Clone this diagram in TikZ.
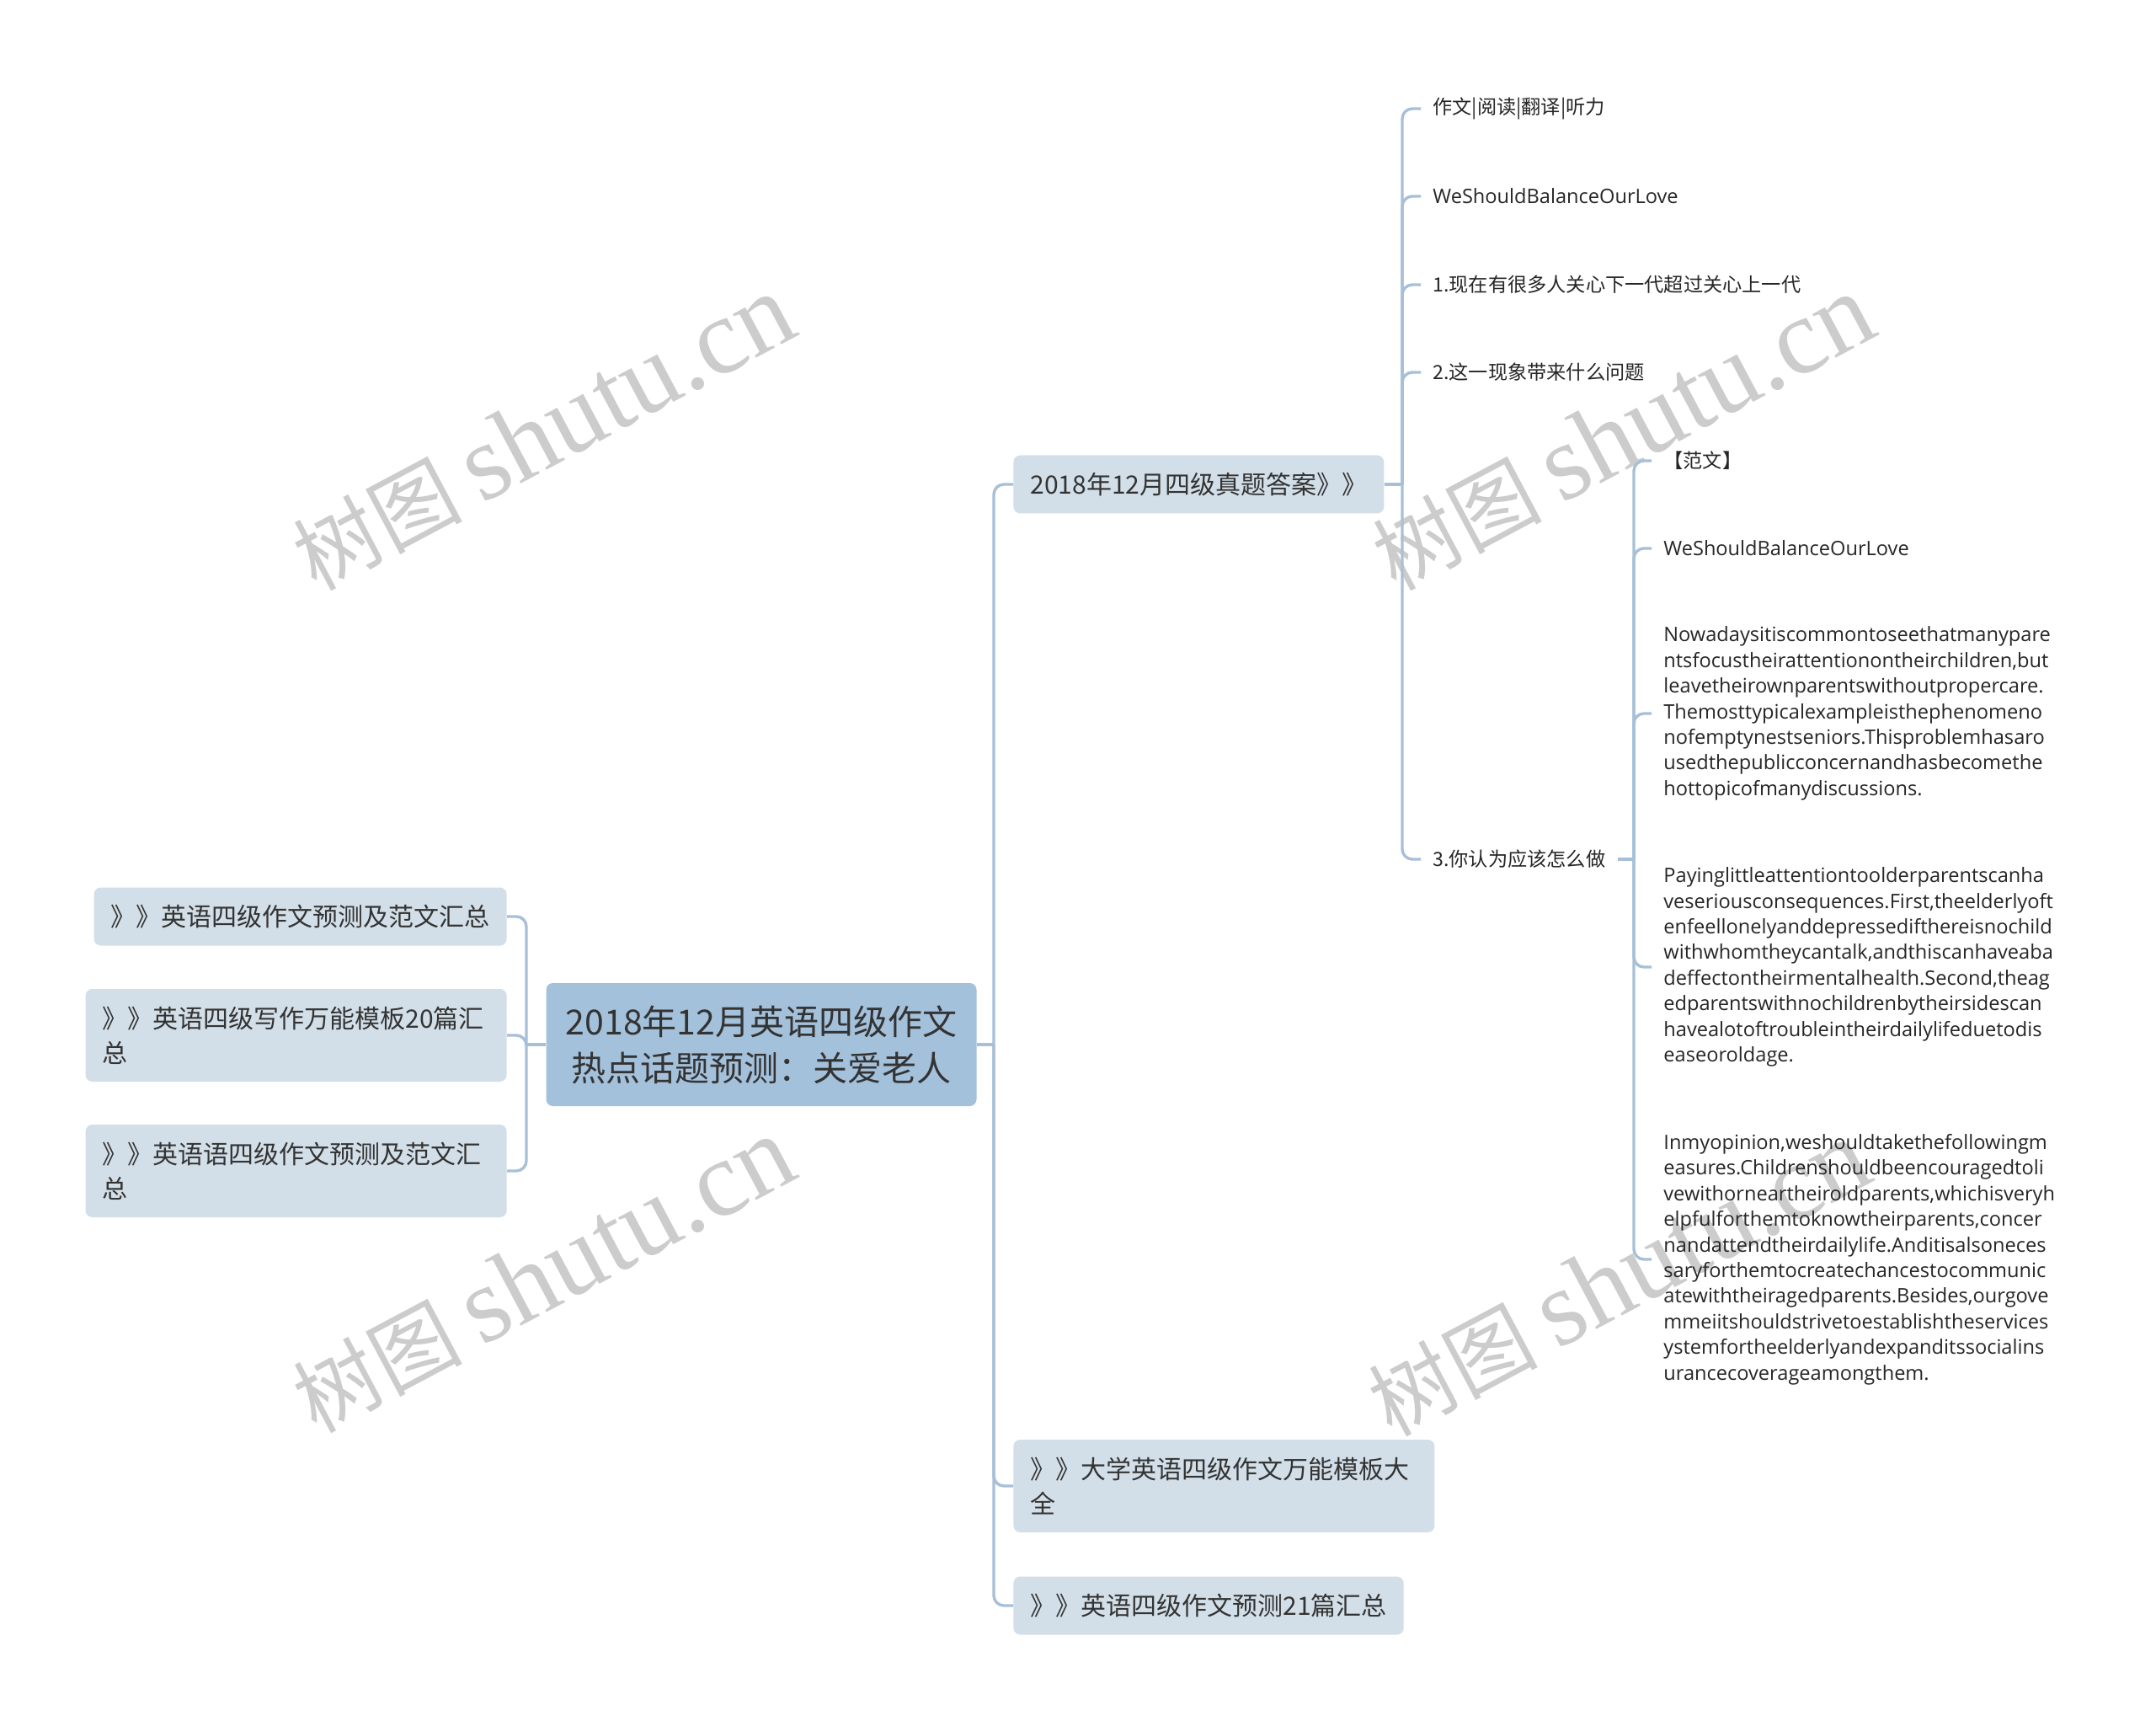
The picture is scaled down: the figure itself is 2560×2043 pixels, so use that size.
\documentclass[tikz,border=0pt]{standalone}
\usepackage{fontspec}
\usepackage{tikz}
\usetikzlibrary{positioning}
\newfontfamily\cjk{Noto Sans CJK SC}
\newfontfamily\latin{Open Sans}
\newfontfamily\wmserif{Liberation Serif}
\definecolor{rootblue}{HTML}{A4C1DB}
\definecolor{topicgray}{HTML}{D3DFE8}
\definecolor{linkblue}{HTML}{A7C0D8}
\definecolor{textgray}{HTML}{333333}

\begin{document}
\begin{tikzpicture}[x=0.5pt,y=-0.5pt]
\tikzstyle{root}=[rectangle,rounded corners=4pt,fill=rootblue,text=textgray,align=center,
  font=\cjk\fontsize{20.5pt}{27.5pt}\selectfont,minimum width=255.5pt,minimum height=73pt,inner sep=0pt]
\tikzstyle{topic}=[rectangle,rounded corners=4pt,fill=topicgray,text=textgray,align=left,
  font=\cjk\fontsize{15pt}{20.5pt}\selectfont,inner xsep=10pt,minimum height=34.5pt]
\tikzstyle{item}=[inner xsep=7pt,inner ysep=2pt,text=black!85,align=left,
  font=\cjk\fontsize{11.6pt}{15.2pt}\selectfont]
\tikzstyle{para}=[item,font=\latin\fontsize{11.8pt}{15.2pt}\selectfont]
\tikzstyle{wmark}=[text=black!20,rotate=28,font=\cjk\fontsize{50pt}{50pt}\selectfont]
\tikzstyle{link}=[draw=linkblue,line width=1.7pt,rounded corners=6pt]

\fill[white] (0,0) rectangle (2560,2043);
\useasboundingbox (0,0) rectangle (2560,2043);

% watermarks
\node[wmark] (wm1) at (645,514) {树图 {\wmserif\fontsize{64pt}{64pt}\selectfont shutu.cn}};
\node[wmark] (wm2) at (1927,514) {树图 {\wmserif\fontsize{64pt}{64pt}\selectfont shutu.cn}};
\node[wmark] (wm3) at (645,1514) {树图 {\wmserif\fontsize{64pt}{64pt}\selectfont shutu.cn}};
\node[wmark] (wm4) at (1922,1518) {树图 {\wmserif\fontsize{64pt}{64pt}\selectfont shutu.cn}};

\node[root] (root) at (904,1240) {2018年12月英语四级作文\\热点话题预测：关爱老人};

\node[topic,anchor=east] (a1) at (602,1088) {》》英语四级作文预测及范文汇总};
\node[topic,anchor=east,text width=230pt,minimum height=55pt] (a2) at (602,1229) {》》英语四级写作万能模板20篇汇\\总};
\node[topic,anchor=east,text width=230pt,minimum height=55pt] (a3) at (602,1390) {》》英语语四级作文预测及范文汇\\总};

\node[topic,anchor=west] (b1) at (1203,575) {2018年12月四级真题答案》》};
\node[topic,anchor=west,text width=230pt,minimum height=55pt] (b2) at (1203,1764) {》》大学英语四级作文万能模板大\\全};
\node[topic,anchor=west] (b3) at (1203,1906) {》》英语四级作文预测21篇汇总};

\node[item,anchor=west] (c1) at (1687,129) {作文|阅读|翻译|听力};
\node[para,anchor=west] (c2) at (1687,233) {WeShouldBalanceOurLove};
\node[item,anchor=west] (c3) at (1687,338) {1.现在有很多人关心下一代超过关心上一代};
\node[item,anchor=west] (c4) at (1687,442) {2.这一现象带来什么问题};
\node[item,anchor=west] (c5) at (1687,1020) {3.你认为应该怎么做};

\node[item,anchor=west] (d1) at (1961,547) {【范文】};
\node[para,anchor=west] (d2) at (1961,651) {WeShouldBalanceOurLove};
\node[para,anchor=west] (d3) at (1961,847) {Nowadaysitiscommontoseethatmanypare\\
ntsfocustheirattentionontheirchildren,but\\
leavetheirownparentswithoutpropercare.\\
Themosttypicalexampleisthephenomeno\\
nofemptynestseniors.Thisproblemhasaro\\
usedthepublicconcernandhasbecomethe\\
hottopicofmanydiscussions.};
\node[para,anchor=west] (d4) at (1961,1148) {Payinglittleattentiontoolderparentscanha\\
veseriousconsequences.First,theelderlyoft\\
enfeellonelyanddepressedifthereisnochild\\
withwhomtheycantalk,andthiscanhaveaba\\
deffectontheirmentalhealth.Second,theag\\
edparentswithnochildrenbytheirsidescan\\
havealotoftroubleintheirdailylifeduetodis\\
easeoroldage.};
\node[para,anchor=west] (d5) at (1961,1495) {Inmyopinion,weshouldtakethefollowingm\\
easures.Childrenshouldbeencouragedtoli\\
vewithorneartheiroldparents,whichisveryh\\
elpfulforthemtoknowtheirparents,concer\\
nandattendtheirdailylife.Anditisalsoneces\\
saryforthemtocreatechancestocommunic\\
atewiththeiragedparents.Besides,ourgove\\
mmeiitshouldstrivetoestablishtheservices\\
ystemfortheelderlyandexpanditssocialins\\
urancecoverageamongthem.};

\coordinate (lj) at (625,1240);
\coordinate (rj) at (1180,1240);
\coordinate (bj) at (1665,575);
\coordinate (cj) at (1940,1020);

\draw[link] (root.west) -- (lj);
\foreach \n in {a1,a2,a3}
  \draw[link] (lj) |- (\n.east);
\draw[link] (root.east) -- (rj);
\foreach \n in {b1,b2,b3}
  \draw[link] (rj) |- (\n.west);
\draw[link] (b1.east) -- (bj);
\foreach \n in {c1,c2,c3,c4,c5}
  \draw[link] (bj) |- (\n.west);
\draw[link] (c5.east) -- (cj);
\foreach \n in {d1,d2,d3,d4,d5}
  \draw[link] (cj) |- (\n.west);
\end{tikzpicture}
\end{document}
